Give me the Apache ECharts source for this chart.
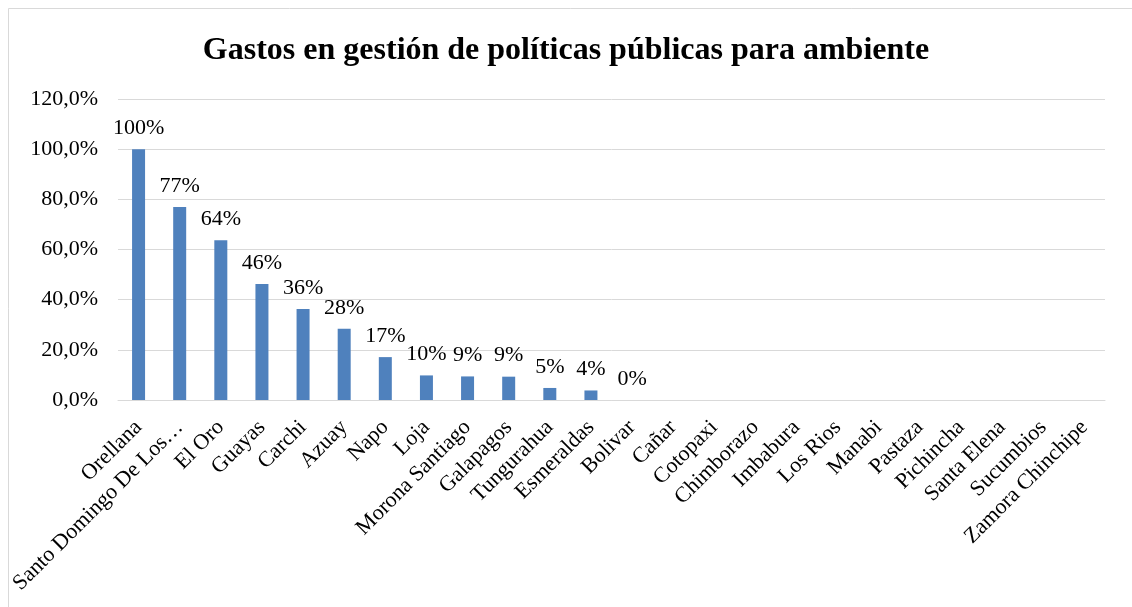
<!DOCTYPE html>
<html>
<head>
<meta charset="utf-8">
<script src="https://cdn.jsdelivr.net/npm/echarts@6/dist/echarts.min.js"></script>
<style>
  html, body { margin: 0; padding: 0; background: #fff; }
  #chart { width: 1132px; height: 607px; }
</style>
</head>
<body>
<div id="chart"></div>
<script>
// Provinces, sorted by share of spending
const provincias = [
  'Orellana', 'Santo Domingo De Los…', 'El Oro', 'Guayas', 'Carchi', 'Azuay',
  'Napo', 'Loja', 'Morona Santiago', 'Galapagos', 'Tungurahua', 'Esmeraldas',
  'Bolivar', 'Cañar', 'Cotopaxi', 'Chimborazo', 'Imbabura', 'Los Rios',
  'Manabi', 'Pastaza', 'Pichincha', 'Santa Elena', 'Sucumbios', 'Zamora Chinchipe'
];
// Share of spending (%) — provinces without a value carry null
const gasto = [
  100, 76.9, 63.7, 46.2, 36.3, 28.4,
  17.1, 9.8, 9.4, 9.3, 4.8, 3.8,
  0, null, null, null, null, null,
  null, null, null, null, null, null
];
const ejeY = { min: 0, max: 120, interval: 20 };
const titulo = 'Gastos en gestión de políticas públicas para ambiente';

const serif = '"Liberation Serif", "Times New Roman", serif';
const chart = echarts.init(document.getElementById('chart'), null, { renderer: 'canvas' });
chart.setOption({
  animation: false,
  backgroundColor: '#ffffff',
  textStyle: { fontFamily: serif },
  title: {
    text: titulo,
    left: 'center',
    top: 30,
    textStyle: { fontFamily: serif, fontSize: 32, fontWeight: 'bold', color: '#000' }
  },
  graphic: [{
    type: 'rect',
    shape: { x: 8.5, y: 8.5, width: 1200, height: 700 },
    style: { fill: 'none', stroke: '#D9D9D9', lineWidth: 1 },
    silent: true
  }],
  grid: { left: 118, right: 27, top: 99, bottom: 207, containLabel: false },
  xAxis: {
    type: 'category',
    data: provincias,
    axisLine: { show: true, lineStyle: { color: '#D9D9D9', width: 1 } },
    axisTick: { show: false },
    axisLabel: {
      interval: 0,
      rotate: 45,
      margin: 24,
      color: '#000',
      fontFamily: serif,
      fontSize: 22
    }
  },
  yAxis: {
    type: 'value',
    min: ejeY.min,
    max: ejeY.max,
    interval: ejeY.interval,
    axisLine: { show: false },
    axisTick: { show: false },
    splitLine: { lineStyle: { color: '#D9D9D9', width: 1 } },
    axisLabel: {
      margin: 20,
      color: '#000',
      fontFamily: serif,
      fontSize: 22,
      formatter: v => v.toFixed(1).replace('.', ',') + '%'
    }
  },
  series: [{
    type: 'bar',
    data: gasto,
    barWidth: 13,
    itemStyle: { color: '#4F81BD' },
    label: {
      show: true,
      position: 'top',
      distance: 10,
      color: '#000',
      fontFamily: serif,
      fontSize: 22,
      formatter: p => Math.round(p.value) + '%'
    }
  }]
});
</script>
</body>
</html>
